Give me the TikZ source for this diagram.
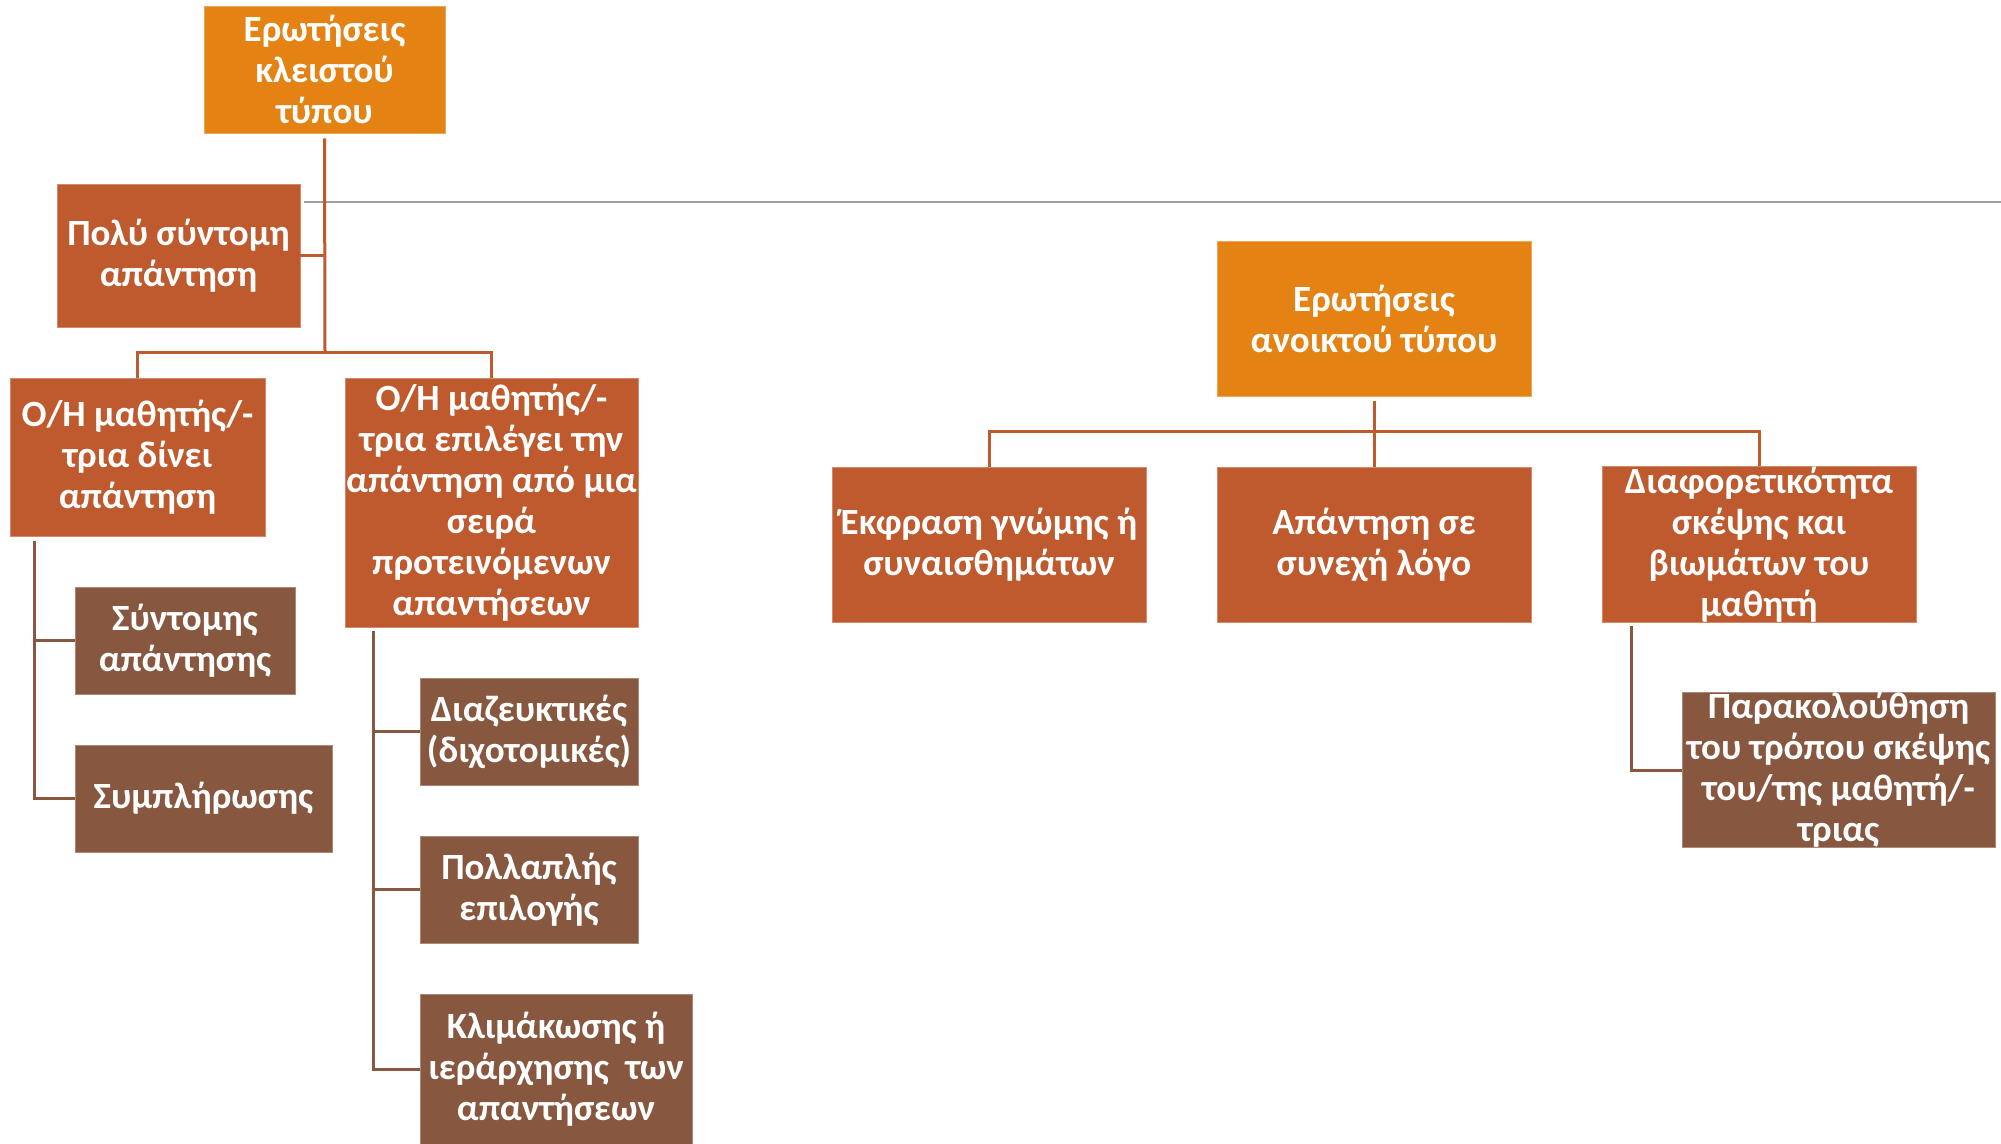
\documentclass[tikz,border=0pt]{standalone}
\usepackage{fontspec}
\setmainfont{Carlito}
\definecolor{orng}{HTML}{E48314}
\definecolor{rust}{HTML}{BE5A2D}
\definecolor{brwn}{HTML}{87573F}
\definecolor{gline}{HTML}{A0A0A0}
\tikzset{
  box/.style={rectangle, inner sep=0pt, align=center, text=white,
    font=\fontsize{37}{41}\selectfont\bfseries, line width=0.8pt},
  obox/.style={box, fill=orng, draw=orng!70!white},
  rbox/.style={box, fill=rust, draw=rust!70!white},
  bbox/.style={box, fill=brwn, draw=brwn!70!white},
  rl/.style={draw=rust, line width=3pt},
  bl/.style={draw=brwn, line width=3pt},
}
\begin{document}
\begin{tikzpicture}[x=1pt,y=-1pt]
\useasboundingbox (0,0) rectangle (2001,1143);
\fill[white] (0,0) rectangle (2001,1143);
% gray rule
\draw[gline, line width=2pt] (304,202) -- (2001,202);
% left tree
\node[obox, minimum width=241pt, minimum height=127pt] (t1) at (324.5,69.5) {Ερωτήσεις\\κλειστού\\τύπου};
\node[rbox, minimum width=243pt, minimum height=143pt] (p) at (178.5,255.5) {Πολύ σύντομη\\απάντηση};
\node[rbox, minimum width=255pt, minimum height=158pt] (l1) at (137.5,457) {Ο/Η μαθητής/-\\τρια δίνει\\απάντηση};
\node[rbox, minimum width=293pt, minimum height=249pt] (l2) at (491.5,502.5) {Ο/Η μαθητής/-\\τρια επιλέγει την\\απάντηση από μια\\σειρά\\προτεινόμενων\\απαντήσεων};
\node[bbox, minimum width=220pt, minimum height=107pt] (s1) at (185,640.5) {Σύντομης\\απάντησης};
\node[bbox, minimum width=257pt, minimum height=107pt] (s2) at (203.5,798.5) {Συμπλήρωσης};
\node[bbox, minimum width=218pt, minimum height=107pt] (d1) at (529,731.5) {Διαζευκτικές\\(διχοτομικές)};
\node[bbox, minimum width=218pt, minimum height=107pt] (d2) at (529,889.5) {Πολλαπλής\\επιλογής};
\node[bbox, minimum width=272pt, minimum height=150pt] (d3) at (556,1069) {Κλιμάκωσης ή\\ιεράρχησης~~των\\απαντήσεων};
\coordinate (j1) at (325,352);
\coordinate (l1v) at (34,541);
\coordinate (l2v) at (373,631);
\draw[rl] ([yshift=-5pt]t1.south) -- (j1);
\draw[rl] (l1.north) |- (j1) -| (l2.north);
\draw[rl] (p.east) -- (p.east -| j1);
\draw[bl] (l1v) |- (s1.west);
\draw[bl] (l1v) |- (s2.west);
\draw[bl] (l2v) |- (d1.west);
\draw[bl] (l2v) |- (d2.west);
\draw[bl] (l2v) |- (d3.west);
% right tree
\node[obox, minimum width=314pt, minimum height=155pt] (t2) at (1374,318.5) {Ερωτήσεις\\ανοικτού τύπου};
\node[rbox, minimum width=314pt, minimum height=155pt] (e1) at (989,544.5) {Έκφραση γνώμης ή\\συναισθημάτων};
\node[rbox, minimum width=314pt, minimum height=155pt] (e2) at (1374,544.5) {Απάντηση σε\\συνεχή λόγο};
\node[rbox, minimum width=314pt, minimum height=155pt] (e3) at (1759,544.5) {Διαφορετικότητα\\σκέψης και\\βιωμάτων του\\μαθητή};
\node[bbox, minimum width=313pt, minimum height=154pt] (par) at (1838.5,770) {Παρακολούθηση\\του τρόπου σκέψης\\του/της μαθητή/-\\τριας};
\coordinate (j2) at (1374,431);
\coordinate (e3v) at (1631,626);
\draw[rl] ([yshift=-5pt]t2.south) -- (e2.north);
\draw[rl] (e1.north) |- (j2) -| (e3.north);
\draw[bl] (e3v) |- (par.west);
\end{tikzpicture}
\end{document}
